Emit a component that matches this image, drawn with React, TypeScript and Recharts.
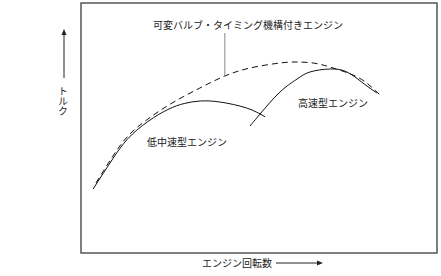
import { LineChart, Line, XAxis, YAxis, ReferenceArea, ReferenceLine, ReferenceDot } from "recharts";

// engine speed (0-100 %) vs torque (0-100 %)
const lowMidSpeed = [
  { rpm: 3.4, torque: 25.6 },
  { rpm: 8.7, torque: 37.2 },
  { rpm: 13.2, torque: 45.8 },
  { rpm: 18.8, torque: 52.6 },
  { rpm: 24.4, torque: 57.4 },
  { rpm: 29, torque: 59.8 },
  { rpm: 33.5, torque: 60.8 },
  { rpm: 39, torque: 60.4 },
  { rpm: 46.5, torque: 58 },
  { rpm: 51.7, torque: 54.5 },
];

const highSpeed = [
  { rpm: 47.5, torque: 50.8 },
  { rpm: 50.3, torque: 55.6 },
  { rpm: 55.9, torque: 64.4 },
  { rpm: 60.7, torque: 69.6 },
  { rpm: 64.3, torque: 72.4 },
  { rpm: 69.9, torque: 73.6 },
  { rpm: 74.7, torque: 72.4 },
  { rpm: 79.2, torque: 68 },
  { rpm: 83.1, torque: 64 },
];

const variableValve = [
  { rpm: 4.2, torque: 28 },
  { rpm: 8.7, torque: 38.2 },
  { rpm: 13.2, torque: 46.8 },
  { rpm: 18.8, torque: 53.6 },
  { rpm: 25.6, torque: 60 },
  { rpm: 33.4, torque: 66 },
  { rpm: 40.4, torque: 70.8 },
  { rpm: 47.5, torque: 74 },
  { rpm: 55.9, torque: 76 },
  { rpm: 60.7, torque: 76.4 },
  { rpm: 65.2, torque: 76 },
  { rpm: 69.9, torque: 74.4 },
  { rpm: 76.4, torque: 71.2 },
  { rpm: 80.6, torque: 67.6 },
  { rpm: 84, torque: 63.2 },
];

const seriesLabels = [
  { text: "可変バルブ・タイミング機構付きエンジン", rpm: 46.9, torque: 91.2 },
  { text: "高速型エンジン", rpm: 70.8, torque: 60 },
  { text: "低中速型エンジン", rpm: 29.8, torque: 44.4 },
];

const FONT = '"Noto Sans CJK JP", "Noto Sans", sans-serif';

export default function App() {
  return (
    <div style={{ position: "absolute", left: 0, top: 0, width: 441, height: 276, background: "#fff", fontFamily: FONT }}>
      <LineChart width={441} height={276} margin={{ top: 3, right: 4, bottom: 23, left: 81 }}>
        <XAxis type="number" dataKey="rpm" domain={[0, 100]} hide />
        <YAxis type="number" dataKey="torque" domain={[0, 100]} hide />
        <ReferenceArea x1={0} x2={100} y1={0} y2={100} fill="none" stroke="#555" strokeWidth={1.5} />
        {/* leader from the VVT label down to its curve */}
        <ReferenceLine segment={[{ x: 40.4, y: 71 }, { x: 40.4, y: 88 }]} stroke="#888" strokeWidth={1} />
        <Line data={variableValve} dataKey="torque" type="natural" stroke="#111" strokeWidth={1}
              strokeDasharray="6 4" dot={false} isAnimationActive={false} />
        <Line data={lowMidSpeed} dataKey="torque" type="natural" stroke="#111" strokeWidth={1}
              dot={false} isAnimationActive={false} />
        <Line data={highSpeed} dataKey="torque" type="natural" stroke="#111" strokeWidth={1}
              dot={false} isAnimationActive={false} />
        {seriesLabels.map((l) => (
          <ReferenceDot key={l.text} x={l.rpm} y={l.torque} r={0} fill="none" stroke="none"
                        label={{ value: l.text, position: "center", fontSize: 10, fill: "#222", fontFamily: FONT }} />
        ))}
      </LineChart>

      {/* axis captions with arrows */}
      <svg width={441} height={276} style={{ position: "absolute", left: 0, top: 0, pointerEvents: "none" }}>
        <line x1={64} y1={78} x2={64} y2={34} stroke="#222" strokeWidth={1} />
        <polygon points="64,29 61.5,35 66.5,35" fill="#222" />
        <text x={63} y={86} fontSize={10} fill="#222" fontFamily={FONT}
              style={{ writingMode: "vertical-rl" }}>トルク</text>
        <text x={202} y={267} fontSize={10} fill="#222" fontFamily={FONT}>エンジン回転数</text>
        <line x1={276} y1={263} x2={317} y2={263} stroke="#222" strokeWidth={1} />
        <polygon points="323,263 317,260.5 317,265.5" fill="#222" />
      </svg>
    </div>
  );
}
